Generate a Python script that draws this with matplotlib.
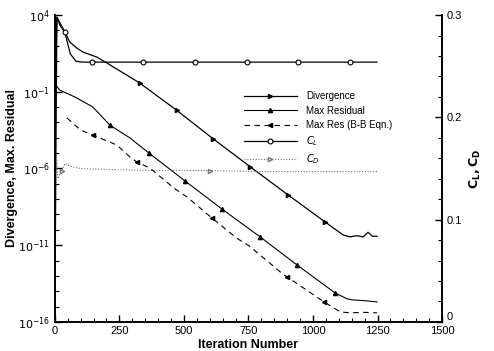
import numpy as np
import matplotlib
matplotlib.use("Agg")
import matplotlib.pyplot as plt
from matplotlib.ticker import FixedLocator, MultipleLocator, FixedFormatter

plt.rcParams['font.family'] = ['Liberation Sans', 'DejaVu Sans']

# ============================== data ================================ #

# Divergence (log10 values)
div_it = [2, 8, 39, 58, 85, 109, 163, 202, 291, 329, 473, 612, 756, 903, 1047,
          1116, 1143, 1170, 1194, 1213, 1230, 1248]
div_log = [-1.0, 3.87, 2.89, 2.24, 1.85, 1.59, 1.26, 0.87, -0.04, -0.43, -2.22,
           -4.05, -5.88, -7.72, -9.49, -10.33, -10.46, -10.38, -10.46, -10.16,
           -10.42, -10.42]
div_marks = [329, 473, 612, 756, 903, 1047]

# Max residual (log10 values)
res_it = [5, 19, 78, 147, 213, 291, 364, 504, 647, 795, 938, 1085, 1132, 1155,
          1200, 1248]
res_log = [-0.6, -0.89, -1.34, -1.99, -3.17, -4.01, -4.99, -6.81, -8.64, -10.46,
           -12.29, -14.11, -14.50, -14.57, -14.62, -14.70]
res_marks = [213, 364, 504, 647, 795, 938, 1085]

# Max residual of the B-B equation (log10 values)
bb_it = [47, 100, 147, 240, 291, 318, 368, 463, 512, 608, 705, 753, 884, 898,
         1043, 1105, 1143, 1200, 1248]
bb_log = [-2.71, -3.5, -3.82, -4.47, -5.25, -5.58, -5.97, -7.3, -7.86, -9.22,
          -10.55, -11.05, -12.9, -13.05, -14.7, -15.35, -15.41, -15.38, -15.41]
bb_marks = [147, 318, 608, 898, 1043]

# Lift coefficient
cl_it = [0, 3, 8, 20, 39, 60, 82, 105, 143, 343, 543, 743, 943, 1143, 1248]
cl_val = [0.0, 0.12, 0.298, 0.29, 0.283, 0.262, 0.255, 0.254, 0.254, 0.254,
          0.254, 0.254, 0.254, 0.254, 0.254]
cl_marks = [39, 143, 343, 543, 743, 943, 1143]

# Drag coefficient
cd_it = [0, 5, 12, 20, 27, 40, 60, 100, 200, 400, 600, 800, 1000, 1200, 1248]
cd_val = [0.0, 0.17, 0.14, 0.145, 0.148, 0.155, 0.152, 0.150, 0.149, 0.148,
          0.148, 0.147, 0.147, 0.147, 0.147]
cd_marks = [27, 600]

x_ticks = [0, 250, 500, 750, 1000, 1250, 1500]
y_ticks = [1e-16, 1e-11, 1e-6, 1e-1, 1e4]
y_tick_labels = [r'$10^{-16}$', r'$10^{-11}$', r'$10^{-6}$', r'$10^{-1}$', r'$10^{4}$']
r_ticks = [0, 0.1, 0.2, 0.3]
r_tick_labels = ['0', '0.1', '0.2', '0.3']


def mark_idx(its, marks):
    return [i for i, v in enumerate(its) if v in marks]


fig = plt.figure(figsize=(4.94, 3.51), dpi=100)
ax = fig.add_axes([0.111, 0.083, 0.784, 0.874])
ax2 = ax.twinx()

l1, = ax.plot(div_it, 10.0 ** np.array(div_log), color='k', lw=0.9,
              marker='>', ms=3, markevery=mark_idx(div_it, div_marks),
              label='Divergence')
l2, = ax.plot(res_it, 10.0 ** np.array(res_log), color='k', lw=0.8,
              marker='^', ms=3, markevery=mark_idx(res_it, res_marks),
              label='Max Residual')
l3, = ax.plot(bb_it, 10.0 ** np.array(bb_log), color='k', lw=0.8,
              ls=(0, (5, 4)), marker='<', ms=3,
              markevery=mark_idx(bb_it, bb_marks), label='Max Res (B-B Eqn.)')
l4, = ax2.plot(cl_it, cl_val, color='k', lw=0.9, marker='o', ms=3.5,
               mfc='white', mew=0.8, markevery=mark_idx(cl_it, cl_marks),
               label=r'$C_L$')
l5, = ax2.plot(cd_it, cd_val, color='0.45', lw=0.8, ls=(0, (1, 1.5)),
               marker='>', ms=3, mfc='white',
               markevery=mark_idx(cd_it, cd_marks), label=r'$C_D$')

ax.set_yscale('log')
ax.set_xlim(0, 1500)
ax.set_ylim(1e-16, 1e4)
ax2.set_ylim(0, 0.3)

ax.xaxis.set_major_locator(FixedLocator(x_ticks))
ax.xaxis.set_minor_locator(MultipleLocator(50))
ax.yaxis.set_major_locator(FixedLocator(y_ticks))
ax.yaxis.set_major_formatter(FixedFormatter(y_tick_labels))
ax.yaxis.set_minor_locator(FixedLocator([10.0 ** k for k in range(-16, 5)]))
ax.yaxis.set_minor_formatter(FixedFormatter([]))
ax2.yaxis.set_major_locator(FixedLocator(r_ticks))
ax2.yaxis.set_major_formatter(FixedFormatter(r_tick_labels))
ax2.yaxis.set_minor_locator(MultipleLocator(0.02))

for a in (ax, ax2):
    a.spines['top'].set_visible(False)
    for s in a.spines.values():
        s.set_linewidth(1.2)
ax.tick_params(which='major', direction='in', length=5, width=1, labelsize=8)
ax.tick_params(which='minor', direction='in', length=3, width=0.8)
ax.tick_params(axis='x', which='major', pad=3)
ax2.tick_params(which='major', direction='in', length=5, width=1, labelsize=8)
ax2.tick_params(which='minor', direction='in', length=3, width=0.8)

# the "0" on the right axis sits just above the "1500" label
for t in ax2.yaxis.get_major_ticks()[:1]:
    t.label2.set_va('bottom')

ax.set_xlabel('Iteration Number', fontsize=9, fontweight='bold', labelpad=2)
ax.set_ylabel('Divergence, Max. Residual', fontsize=9, fontweight='bold',
              labelpad=0)
ax2.set_ylabel(r'$\mathbf{C_L, C_D}$', fontsize=9, labelpad=4)

ax.legend(handles=[l1, l2, l3, l4, l5], frameon=False, fontsize=7,
          handlelength=5.5, handletextpad=0.9, labelspacing=0.45,
          numpoints=1, loc='upper left', bbox_to_anchor=(0.465, 0.78))

fig.savefig('out.png', dpi=100)
